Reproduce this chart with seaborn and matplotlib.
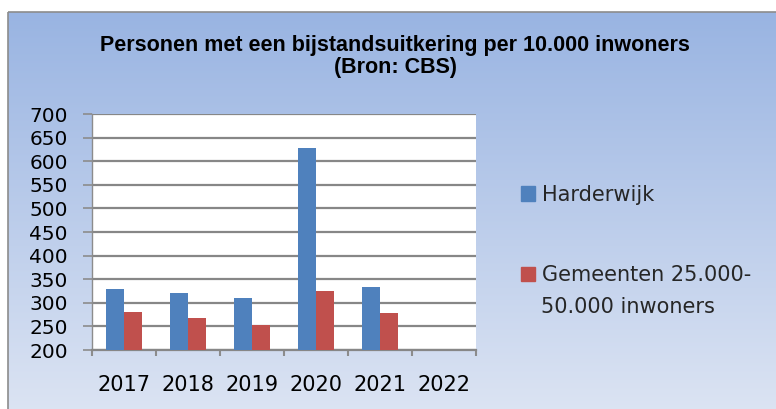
import numpy as np
import pandas as pd
import matplotlib
matplotlib.use("Agg")
import matplotlib.pyplot as plt
import matplotlib.patches as mpatches
from matplotlib.colors import LinearSegmentedColormap
import seaborn as sns

# data
years = ["2017", "2018", "2019", "2020", "2021", "2022"]
harderwijk = [329, 321, 310, 629, 333, 0]
gemeenten = [280, 267, 253, 325, 278, 0]
series = ["Harderwijk", "Gemeenten 25.000-50.000 inwoners"]
y_ticks = [200, 250, 300, 350, 400, 450, 500, 550, 600, 650, 700]

df = pd.DataFrame({
    "jaar": years * 2,
    "reeks": [series[0]] * len(years) + [series[1]] * len(years),
    "waarde": harderwijk + gemeenten,
})

blue = "#4F81BD"
red = "#C0504D"
grid_col = "#878787"

sns.set_theme(style="white")
plt.rcParams["font.family"] = ["DejaVu Sans"]

W, H = 776, 409
fig = plt.figure(figsize=(W / 100, H / 100), dpi=100)
fig.patch.set_facecolor("white")

# ------------------------------
# background frame with gradient
# ------------------------------
bg = fig.add_axes([0, 0, 1, 1], zorder=-10)
grad = np.linspace(0, 1, 256)[:, None]
cmap = LinearSegmentedColormap.from_list("bg", ["#99B4E2", "#DCE4F3"])
bg.imshow(grad, extent=[8, W + 5, H + 5, 12], cmap=cmap, aspect="auto", origin="upper")
bg.add_patch(mpatches.Rectangle((8, 12), W, H, fill=False, edgecolor="#8C8C8C", lw=1.2))
bg.set_xlim(0, W)
bg.set_ylim(H, 0)
bg.axis("off")

# ------------------------------
# BAR CHART
# ------------------------------
ax = fig.add_axes([92 / W, 59 / H, 384 / W, 236 / H])
ax.set_facecolor("white")

sns.barplot(
    data=df, x="jaar", y="waarde", hue="reeks",
    palette=[blue, red], width=0.56, saturation=1,
    legend=False, ax=ax, zorder=3, linewidth=0,
)

ax.set_ylim(200, 700)
ax.set_xlim(-0.5, len(years) - 0.5)
ax.set_yticks(y_ticks)
ax.set_yticklabels([str(t) for t in y_ticks])
ax.set_axisbelow(True)
ax.grid(axis="y", color=grid_col, lw=1.6)
ax.set_xlabel("")
ax.set_ylabel("")

for s in ["top", "right"]:
    ax.spines[s].set_visible(False)
ax.spines["left"].set_color("#8C8C8C")
ax.spines["left"].set_linewidth(1.0)
ax.spines["bottom"].set_color(grid_col)
ax.spines["bottom"].set_linewidth(1.6)

ax.tick_params(axis="y", left=True, length=6.5, width=1.2, color="#8C8C8C",
               pad=11, labelsize=14.5, labelcolor="black")
ax.tick_params(axis="x", which="major", bottom=False, length=0, pad=18,
               labelsize=15, labelcolor="black")
ax.set_xticks(np.arange(-0.5, len(years), 1), minor=True)
ax.tick_params(axis="x", which="minor", bottom=True, length=4.5, width=1.5,
               color="#8C8C8C")

# title
title_font = dict(family="Liberation Sans", weight="bold", size=15.5,
                  ha="center", va="baseline", color="black")
fig.text(395 / W, 1 - 50.5 / H, "Personen met een bijstandsuitkering per 10.000 inwoners", **title_font)
fig.text(395 / W, 1 - 73 / H, "(Bron: CBS)", **title_font)

# legend
handles = [mpatches.Patch(color=blue), mpatches.Patch(color=red)]
leg = fig.legend(
    handles, ["Harderwijk", "Gemeenten 25.000-"],
    loc="upper left", bbox_to_anchor=(502 / W, 1 - 166 / H),
    frameon=False, fontsize=15, handlelength=0.67, handleheight=0.67,
    handletextpad=0.35, labelspacing=2.9,
)
fig.text(541 / W, 1 - 307 / H, "50.000 inwoners", fontsize=15, ha="left", va="center")

fig.savefig("out.png", dpi=100)
